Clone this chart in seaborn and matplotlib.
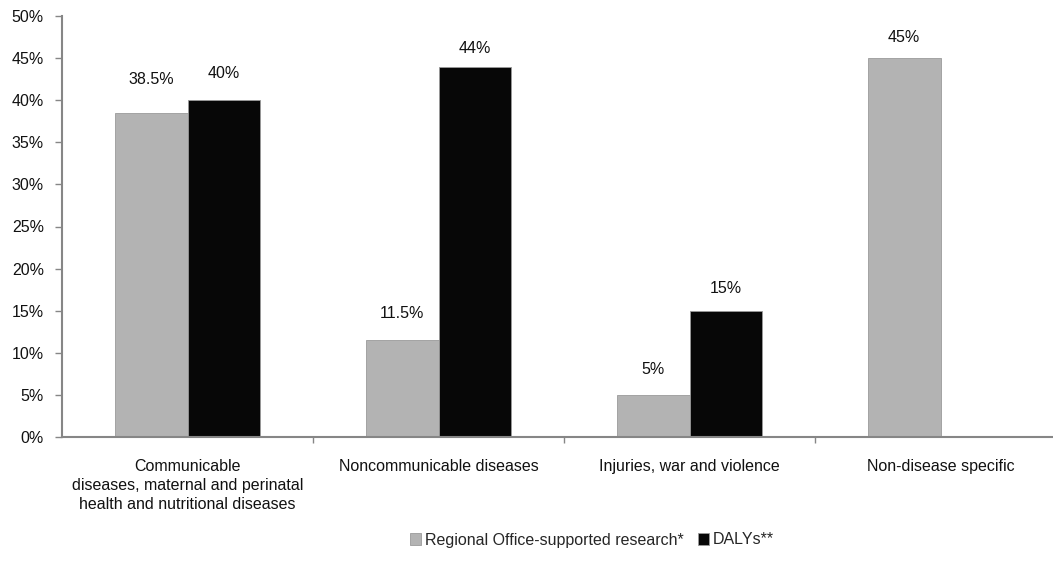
import matplotlib
matplotlib.use("Agg")
import matplotlib.pyplot as plt
import seaborn as sns
import pandas as pd
import numpy as np

categories = ["Communicable\ndiseases, maternal and perinatal\nhealth and nutritional diseases",
              "Noncommunicable diseases",
              "Injuries, war and violence",
              "Non-disease specific"]
research = [38.5, 11.5, 5.0, 45.0]
dalys = [40.0, 44.0, 15.0, np.nan]
research_labels = ["38.5%", "11.5%", "5%", "45%"]
dalys_labels = ["40%", "44%", "15%", ""]
series = ["Regional Office-supported research*", "DALYs**"]
yticks = [0, 5, 10, 15, 20, 25, 30, 35, 40, 45, 50]

sns.set_theme(style="white")
plt.rcParams['font.family'] = ['Liberation Sans', 'DejaVu Sans']

FS = 11.5

df = pd.DataFrame({
    "category": categories * 2,
    "series": [series[0]] * 4 + [series[1]] * 4,
    "value": research + dalys,
})

fig = plt.figure(figsize=(10.53, 5.76), dpi=100)
ax = fig.add_axes([62/1053, (576-437)/576, 1004/1053, 421/576])
sns.barplot(data=df, x="category", y="value", hue="series", order=categories,
            hue_order=series, palette=["#b3b3b3", "#070707"], width=0.58,
            edgecolor="#9a9a9a", linewidth=0.6, ax=ax, legend=True)

ax.set_xlim(-0.5, 3.5)
ax.set_ylim(0, 50)
ax.set_yticks(yticks)
ax.set_yticklabels([f"{t}%" for t in yticks], fontsize=FS, color="#111111")
ax.set_xlabel("")
ax.set_ylabel("")
ax.tick_params(axis="y", which="major", direction="out", length=5, width=1,
               color="#868686", left=True, pad=8)
ax.set_xticks(range(4))
ax.set_xticklabels(categories, fontsize=FS, color="#111111", linespacing=1.32)
ax.tick_params(axis="x", which="major", length=0, pad=16)
ax.set_xticks([0.5, 1.5, 2.5], minor=True)
ax.tick_params(axis="x", which="minor", direction="out", length=4, width=1,
               color="#868686", bottom=True)
for s in ["top", "right"]:
    ax.spines[s].set_visible(False)
for s in ["left", "bottom"]:
    ax.spines[s].set_color("#868686")
    ax.spines[s].set_linewidth(1.5)

offsets_r = [24, 19, 18, 14.5]
offsets_d = [19, 13, 16, 0]
for cont, vals, labs, offs in zip(ax.containers, [research, dalys],
                                  [research_labels, dalys_labels],
                                  [offsets_r, offsets_d]):
    for bar, v, lab, off in zip(cont, vals, labs, offs):
        if lab == "" or np.isnan(v):
            continue
        ax.annotate(lab, (bar.get_x() + bar.get_width() / 2, v),
                    xytext=(0, off), textcoords="offset points",
                    ha="center", va="center", fontsize=FS, color="#111111")

ax.get_legend().remove()
handles, labels = ax.get_legend_handles_labels()
fig.legend(handles, labels, loc="center", bbox_to_anchor=(592/1053, 1 - 540/576),
           ncol=2, frameon=False, fontsize=FS, handlelength=0.7, handleheight=0.7,
           handletextpad=0.25, columnspacing=0.9)

fig.savefig("out.png", dpi=100)
